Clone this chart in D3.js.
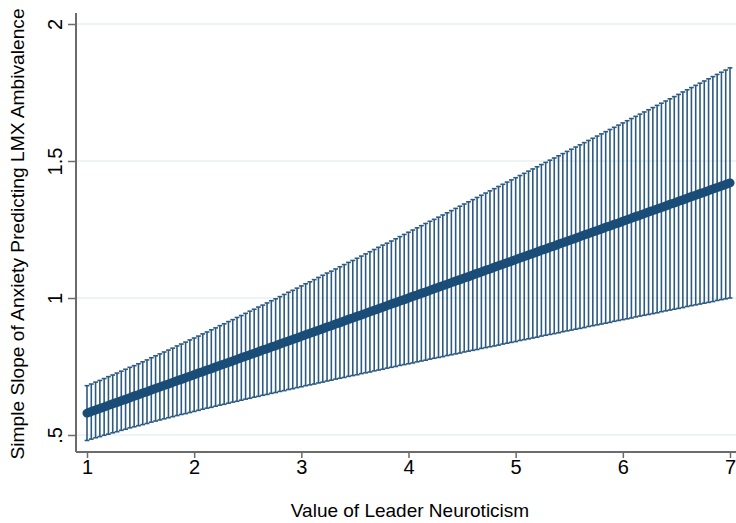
<!DOCTYPE html>
<html>
<head>
<meta charset="utf-8">
<script src="https://cdn.jsdelivr.net/npm/d3@7.9.0/dist/d3.min.js"></script>
<style>
  html, body { margin: 0; padding: 0; background: #fff; }
  svg { display: block; font-family: "Liberation Sans", Arial, sans-serif; }
</style>
</head>
<body>
<svg id="chart" width="736" height="523"></svg>
<script>
// leader neuroticism values (1 to 7, step .04)
const xStart = 1;
const xStep = 0.04;

// simple slope estimate at each value
const slope = [
  0.580, 0.586, 0.591, 0.597, 0.602, 0.608, 0.614, 0.619, 0.625, 0.630,
  0.636, 0.642, 0.647, 0.653, 0.658, 0.664, 0.670, 0.675, 0.681, 0.686,
  0.692, 0.698, 0.703, 0.709, 0.714, 0.720, 0.726, 0.731, 0.737, 0.742,
  0.748, 0.754, 0.759, 0.765, 0.770, 0.776, 0.782, 0.787, 0.793, 0.798,
  0.804, 0.810, 0.815, 0.821, 0.826, 0.832, 0.838, 0.843, 0.849, 0.854,
  0.860, 0.866, 0.871, 0.877, 0.882, 0.888, 0.894, 0.899, 0.905, 0.910,
  0.916, 0.922, 0.927, 0.933, 0.938, 0.944, 0.950, 0.955, 0.961, 0.966,
  0.972, 0.978, 0.983, 0.989, 0.994, 1.000, 1.006, 1.011, 1.017, 1.022,
  1.028, 1.034, 1.039, 1.045, 1.050, 1.056, 1.062, 1.067, 1.073, 1.078,
  1.084, 1.090, 1.095, 1.101, 1.106, 1.112, 1.118, 1.123, 1.129, 1.134,
  1.140, 1.146, 1.151, 1.157, 1.162, 1.168, 1.174, 1.179, 1.185, 1.190,
  1.196, 1.202, 1.207, 1.213, 1.218, 1.224, 1.230, 1.235, 1.241, 1.246,
  1.252, 1.258, 1.263, 1.269, 1.274, 1.280, 1.286, 1.291, 1.297, 1.302,
  1.308, 1.314, 1.319, 1.325, 1.330, 1.336, 1.342, 1.347, 1.353, 1.358,
  1.364, 1.370, 1.375, 1.381, 1.386, 1.392, 1.398, 1.403, 1.409, 1.414,
  1.420
];

// lower confidence bound
const lower = [
  0.480, 0.485, 0.490, 0.494, 0.499, 0.503, 0.508, 0.512, 0.517, 0.521,
  0.526, 0.530, 0.534, 0.538, 0.542, 0.547, 0.551, 0.555, 0.559, 0.563,
  0.567, 0.571, 0.575, 0.578, 0.582, 0.586, 0.590, 0.594, 0.598, 0.601,
  0.605, 0.609, 0.612, 0.616, 0.620, 0.623, 0.627, 0.631, 0.634, 0.638,
  0.641, 0.645, 0.648, 0.652, 0.655, 0.659, 0.662, 0.666, 0.669, 0.673,
  0.676, 0.680, 0.683, 0.686, 0.690, 0.693, 0.697, 0.700, 0.704, 0.707,
  0.710, 0.714, 0.717, 0.720, 0.724, 0.727, 0.730, 0.734, 0.737, 0.740,
  0.744, 0.747, 0.750, 0.754, 0.757, 0.760, 0.763, 0.767, 0.770, 0.773,
  0.777, 0.780, 0.783, 0.786, 0.790, 0.793, 0.796, 0.799, 0.803, 0.806,
  0.809, 0.812, 0.816, 0.819, 0.822, 0.825, 0.828, 0.832, 0.835, 0.838,
  0.841, 0.845, 0.848, 0.851, 0.854, 0.857, 0.861, 0.864, 0.867, 0.870,
  0.873, 0.877, 0.880, 0.883, 0.886, 0.889, 0.892, 0.896, 0.899, 0.902,
  0.905, 0.908, 0.911, 0.915, 0.918, 0.921, 0.924, 0.927, 0.931, 0.934,
  0.937, 0.940, 0.943, 0.946, 0.950, 0.953, 0.956, 0.959, 0.962, 0.965,
  0.969, 0.972, 0.975, 0.978, 0.981, 0.984, 0.987, 0.991, 0.994, 0.997,
  1.000
];

// upper confidence bound
const upper = [
  0.680, 0.686, 0.693, 0.699, 0.706, 0.713, 0.719, 0.726, 0.733, 0.740,
  0.747, 0.753, 0.760, 0.767, 0.774, 0.782, 0.789, 0.796, 0.803, 0.810,
  0.817, 0.825, 0.832, 0.839, 0.847, 0.854, 0.861, 0.869, 0.876, 0.884,
  0.891, 0.899, 0.906, 0.914, 0.921, 0.929, 0.936, 0.944, 0.952, 0.959,
  0.967, 0.974, 0.982, 0.990, 0.997, 1.005, 1.013, 1.021, 1.028, 1.036,
  1.044, 1.052, 1.059, 1.067, 1.075, 1.083, 1.091, 1.098, 1.106, 1.114,
  1.122, 1.130, 1.137, 1.145, 1.153, 1.161, 1.169, 1.177, 1.185, 1.193,
  1.200, 1.208, 1.216, 1.224, 1.232, 1.240, 1.248, 1.256, 1.264, 1.272,
  1.280, 1.287, 1.295, 1.303, 1.311, 1.319, 1.327, 1.335, 1.343, 1.351,
  1.359, 1.367, 1.375, 1.383, 1.391, 1.399, 1.407, 1.415, 1.423, 1.431,
  1.439, 1.447, 1.455, 1.463, 1.471, 1.479, 1.487, 1.495, 1.503, 1.511,
  1.519, 1.527, 1.535, 1.543, 1.551, 1.559, 1.567, 1.575, 1.583, 1.591,
  1.599, 1.607, 1.615, 1.623, 1.631, 1.639, 1.647, 1.655, 1.663, 1.671,
  1.679, 1.687, 1.695, 1.703, 1.711, 1.719, 1.727, 1.735, 1.743, 1.752,
  1.760, 1.768, 1.776, 1.784, 1.792, 1.800, 1.808, 1.816, 1.824, 1.832,
  1.840
];

const xTicks = [1, 2, 3, 4, 5, 6, 7];
const yTicks = [0.5, 1, 1.5, 2];
const yTickLabels = [".5", "1", "1.5", "2"];

const data = slope.map((s, i) => ({
  x: +(xStart + i * xStep).toFixed(2),
  est: s,
  lo: lower[i],
  hi: upper[i],
}));

const svg = d3.select("#chart");
const plotLeft = 76, plotRight = 760, plotTop = 13, plotBottom = 452;

const x = d3.scaleLinear().domain([1, 7]).range([87, 730]);
const y = d3.scaleLinear().domain([0.5, 2]).range([435, 24]);

// gridlines
svg.append("g")
  .selectAll("line")
  .data(yTicks)
  .join("line")
  .attr("x1", plotLeft)
  .attr("x2", plotRight)
  .attr("y1", (d) => y(d))
  .attr("y2", (d) => y(d))
  .attr("stroke", "#e9eff1")
  .attr("stroke-width", 1.5);

const barColor = "#2c5a80";

// error bars (rcap)
const bars = svg.append("g").attr("stroke", barColor).attr("stroke-width", 1.6);
bars.selectAll("line.v")
  .data(data)
  .join("line")
  .attr("class", "v")
  .attr("x1", (d) => x(d.x))
  .attr("x2", (d) => x(d.x))
  .attr("y1", (d) => y(d.lo))
  .attr("y2", (d) => y(d.hi));
const capW = 2.4;
bars.selectAll("line.top")
  .data(data)
  .join("line")
  .attr("class", "top")
  .attr("x1", (d) => x(d.x) - capW)
  .attr("x2", (d) => x(d.x) + capW)
  .attr("y1", (d) => y(d.hi))
  .attr("y2", (d) => y(d.hi));
bars.selectAll("line.bot")
  .data(data)
  .join("line")
  .attr("class", "bot")
  .attr("x1", (d) => x(d.x) - capW)
  .attr("x2", (d) => x(d.x) + capW)
  .attr("y1", (d) => y(d.lo))
  .attr("y2", (d) => y(d.lo));

// slope line
const line = d3.line().x((d) => x(d.x)).y((d) => y(d.est));
svg.append("path")
  .datum(data)
  .attr("d", line)
  .attr("fill", "none")
  .attr("stroke", "#1a4c78")
  .attr("stroke-width", 9)
  .attr("stroke-linecap", "round");

// axes
const axisColor = "#6b6b6b";
const xAxis = svg.append("g")
  .attr("transform", `translate(0,${plotBottom})`)
  .call(d3.axisBottom(x).tickValues(xTicks).tickSize(6).tickSizeOuter(0).tickFormat(d3.format("d")));
xAxis.select(".domain").attr("d", `M${plotLeft},0H${plotRight}`);

const yAxis = svg.append("g")
  .attr("transform", `translate(${plotLeft},0)`)
  .call(d3.axisLeft(y).tickValues(yTicks).tickSize(8).tickSizeOuter(0)
    .tickFormat((d, i) => yTickLabels[i]));
yAxis.select(".domain").attr("d", `M0,${plotTop}V${plotBottom}`);

svg.selectAll(".domain").attr("stroke", axisColor).attr("stroke-width", 2);
svg.selectAll(".tick line").attr("stroke", axisColor).attr("stroke-width", 1.5);
svg.selectAll(".tick text")
  .attr("fill", "#000")
  .style("font-size", "20px")
  .style("font-family", "'Liberation Sans', Arial, sans-serif");

xAxis.selectAll(".tick text").attr("y", 8);
yAxis.selectAll(".tick text")
  .attr("x", 0)
  .attr("dy", 0)
  .attr("text-anchor", "middle")
  .attr("transform", () => "translate(-14,0) rotate(-90)");

// titles
svg.append("text")
  .attr("x", 410)
  .attr("y", 517)
  .attr("text-anchor", "middle")
  .style("font-size", "19px")
  .text("Value of Leader Neuroticism");

svg.append("text")
  .attr("transform", "translate(24,234) rotate(-90)")
  .attr("text-anchor", "middle")
  .style("font-size", "19.2px")
  .text("Simple Slope of Anxiety Predicting LMX Ambivalence");
</script>
</body>
</html>
